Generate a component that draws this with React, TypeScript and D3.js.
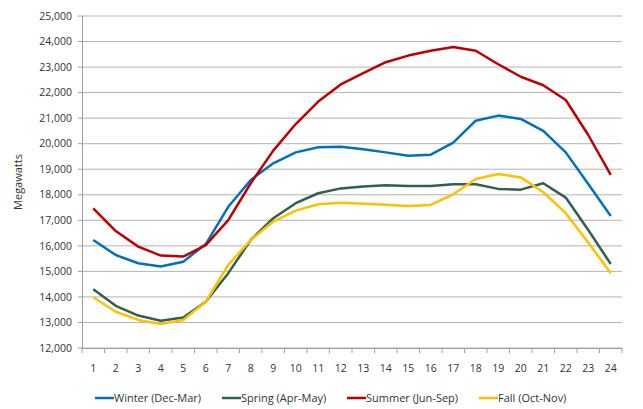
import React, { useEffect } from "react";
import * as d3 from "d3";

const hours = d3.range(1, 25);
const winter = [16230, 15640, 15320, 15190, 15380, 16070, 17530, 18580, 19230, 19660, 19860, 19880, 19780, 19660, 19530, 19570, 20040, 20900, 21100, 20970, 20500, 19660, 18420, 17170];
const spring = [14300, 13650, 13270, 13070, 13190, 13810, 14930, 16230, 17080, 17670, 18060, 18250, 18320, 18370, 18340, 18340, 18410, 18410, 18230, 18200, 18450, 17890, 16620, 15290];
const summer = [17470, 16580, 15970, 15620, 15580, 16030, 17010, 18450, 19730, 20770, 21650, 22320, 22760, 23190, 23450, 23640, 23790, 23640, 23110, 22620, 22290, 21710, 20340, 18780];
const fall = [13990, 13420, 13100, 12940, 13100, 13810, 15250, 16230, 16950, 17380, 17630, 17690, 17650, 17610, 17560, 17600, 18020, 18620, 18810, 18680, 18100, 17280, 16130, 14930];
const yTicks = d3.range(12000, 25001, 1000);

const series = [
  { name: "Winter (Dec-Mar)", values: winter, color: "#0070c0" },
  { name: "Spring (Apr-May)", values: spring, color: "#30604f" },
  { name: "Summer (Jun-Sep)", values: summer, color: "#c00000" },
  { name: "Fall (Oct-Nov)", values: fall, color: "#ffc000" },
];

const W = 643;
const H = 409;
const font = "'Open Sans', 'DejaVu Sans', sans-serif";

export default function App() {
  useEffect(() => {
    document.body.style.margin = "0";
  }, []);

  const x = d3.scaleBand<number>().domain(hours).range([82, 622]);
  const y = d3.scaleLinear().domain([12000, 25000]).range([348, 16]);
  const cx = (h: number) => (x(h) ?? 0) + x.bandwidth() / 2;

  const line = d3
    .line<number>()
    .x((_, i) => cx(hours[i]))
    .y((d) => y(d));

  const fmt = d3.format(",");
  const legendX = [95, 222, 347, 479];

  return (
    <svg width={W} height={H} style={{ display: "block", background: "#fff" }} fontFamily={font}>
      {/* gridlines */}
      {yTicks.map((t) => (
        <line key={t} x1={82} x2={622} y1={y(t)} y2={y(t)} stroke="#b3b3b3" strokeWidth={1} />
      ))}
      {/* y axis */}
      <line x1={82.5} x2={82.5} y1={y(25000)} y2={y(12000)} stroke="#a0a0a0" />
      {yTicks.map((t) => (
        <g key={t}>
          <line x1={78} x2={82} y1={y(t)} y2={y(t)} stroke="#a0a0a0" />
          <text x={72} y={y(t)} dy="0.35em" textAnchor="end" fontSize={10.5} fill="#333">
            {fmt(t)}
          </text>
        </g>
      ))}
      <text
        transform={`translate(22,${(y(25000) + y(12000)) / 2}) rotate(-90)`}
        textAnchor="middle"
        fontSize={11}
        fill="#333"
      >
        Megawatts
      </text>
      {/* x axis */}
      <line x1={82} x2={622} y1={y(12000) + 0.5} y2={y(12000) + 0.5} stroke="#a0a0a0" />
      {hours.map((h) => (
        <g key={h}>
          <line x1={x(h)} x2={x(h)} y1={y(12000)} y2={y(12000) + 5} stroke="#a0a0a0" />
          <text x={cx(h)} y={372} textAnchor="middle" fontSize={10.5} fill="#333">
            {h}
          </text>
        </g>
      ))}
      <line x1={622} x2={622} y1={y(12000)} y2={y(12000) + 5} stroke="#a0a0a0" />
      {/* series */}
      {series.map((s) => (
        <path key={s.name} d={line(s.values) ?? ""} fill="none" stroke={s.color} strokeWidth={2.5} strokeLinejoin="round" />
      ))}
      {/* legend */}
      {series.map((s, i) => (
        <g key={s.name} transform={`translate(${legendX[i]},398)`}>
          <line x1={0} x2={19} y1={0} y2={0} stroke={s.color} strokeWidth={2.5} />
          <text x={19} y={0} dy="0.35em" fontSize={11} fill="#333">
            {s.name}
          </text>
        </g>
      ))}
    </svg>
  );
}
